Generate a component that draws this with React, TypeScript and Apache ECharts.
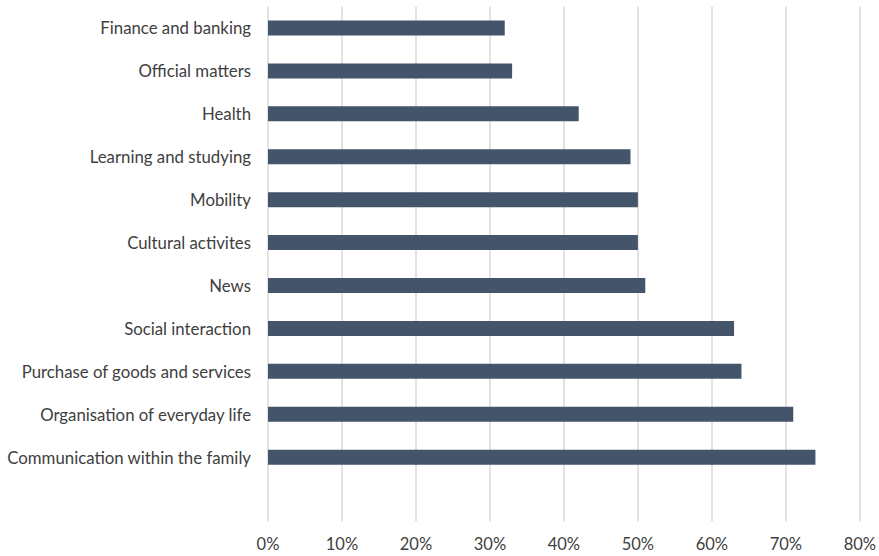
import React, { useEffect, useRef } from "react";
import * as echarts from "echarts";

const categories: string[] = [
  "Finance and banking",
  "Official matters",
  "Health",
  "Learning and studying",
  "Mobility",
  "Cultural activites",
  "News",
  "Social interaction",
  "Purchase of goods and services",
  "Organisation of everyday life",
  "Communication within the family",
  "",
];

const values: (number | null)[] = [32, 33, 42, 49, 50, 50, 51, 63, 64, 71, 74, null];

const xTicks = { min: 0, max: 80, interval: 10 };

export default function App() {
  const ref = useRef<HTMLDivElement>(null);
  useEffect(() => {
    if (!ref.current) return;
    const chart = echarts.init(ref.current, undefined, { renderer: "svg" });
    const font = "Lato, 'Open Sans', sans-serif";
    chart.setOption({
      animation: false,
      backgroundColor: "#ffffff",
      grid: { left: 268, right: 18, top: 6.5, bottom: 34.5, containLabel: false },
      xAxis: {
        type: "value",
        min: xTicks.min,
        max: xTicks.max,
        interval: xTicks.interval,
        axisLine: { show: false },
        axisTick: { show: false },
        splitLine: { show: true, lineStyle: { color: "#d9d9d9", width: 1.5 } },
        axisLabel: {
          formatter: (v: number) => `${v}%`,
          color: "#404040",
          fontSize: 16.5,
          fontFamily: font,
          margin: 14,
        },
      },
      yAxis: {
        type: "category",
        inverse: true,
        data: categories,
        axisLine: { show: false },
        axisTick: { show: false },
        splitLine: { show: false },
        axisLabel: {
          color: "#404040",
          fontSize: 16.8,
          fontFamily: font,
          margin: 17,
        },
      },
      series: [
        {
          type: "bar",
          data: values,
          barWidth: 15,
          itemStyle: { color: "#44546A" },
        },
      ],
    });
    return () => chart.dispose();
  }, []);
  return (
    <div
      ref={ref}
      style={{ position: "fixed", left: 0, top: 0, width: 879, height: 556, background: "#fff" }}
    />
  );
}
